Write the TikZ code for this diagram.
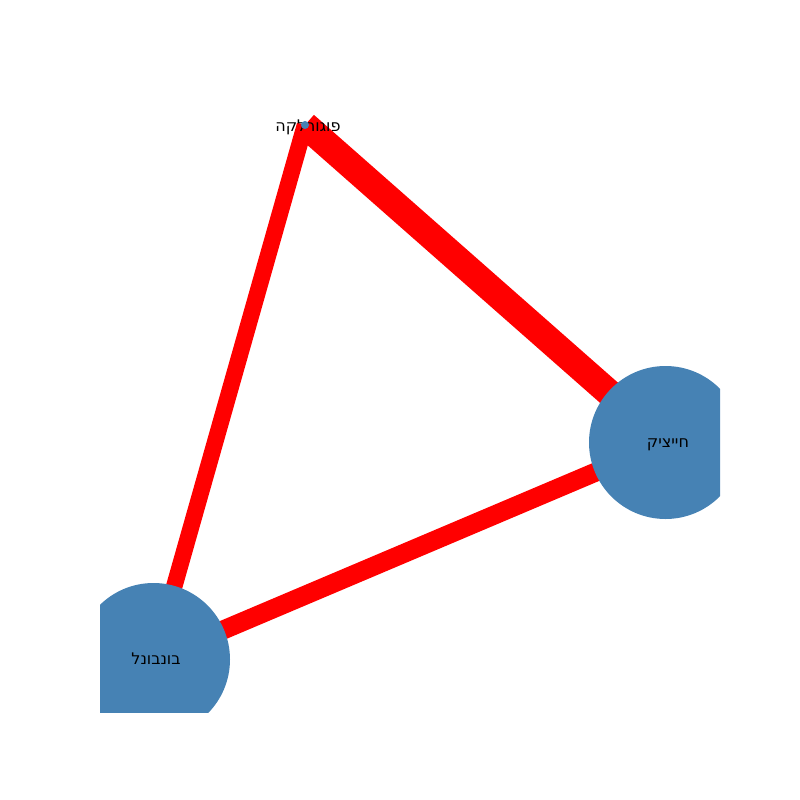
\documentclass[tikz,border=0pt]{standalone}
\usepackage{fontspec}
\TeXXeTstate=1
\newfontfamily\hebfont{DejaVu Sans}
\pgfdeclarelayer{background}
\pgfsetlayers{background,main}
\definecolor{steel}{HTML}{4682B4}
\definecolor{edgered}{HTML}{FF0000}
\tikzset{
  bignode/.style={circle, fill=steel, draw=none, minimum size=153pt, inner sep=0pt},
  smallnode/.style={circle, fill=steel, draw=none, minimum size=8pt, inner sep=0pt},
  lbl/.style={font=\hebfont\fontsize{16}{19}\selectfont, text=black, inner sep=0pt, anchor=base},
  rededge/.style={draw=edgered, line cap=butt},
}
\begin{document}
\begin{tikzpicture}[x=1pt,y=-1pt]
\useasboundingbox (0,0) rectangle (800,800);
\begin{scope}
\clip (100,96) rectangle (720,712);
\node[bignode] (r) at (665.5,442.5) {};
\node[bignode] (b) at (153.5,659.5) {};
\node[lbl] (tl) at (308,131) {\beginR פוגורלקה\endR};
\node[lbl] (rl) at (668,447) {\beginR חייציק\endR};
\node[lbl] (bl) at (156,664) {\beginR בונבונל\endR};
\node[smallnode] (t) at (305,125) {};
\end{scope}
\begin{pgfonlayer}{background}
\begin{scope}
\clip (100,96) rectangle (720,712);
\draw[rededge, line width=27pt] (t.center) -- (r.center);
\draw[rededge, line width=16.5pt] (t.center) -- (b.center);
\draw[rededge, line width=19pt] (r.center) -- (b.center);
\end{scope}
\end{pgfonlayer}
\end{tikzpicture}
\end{document}
